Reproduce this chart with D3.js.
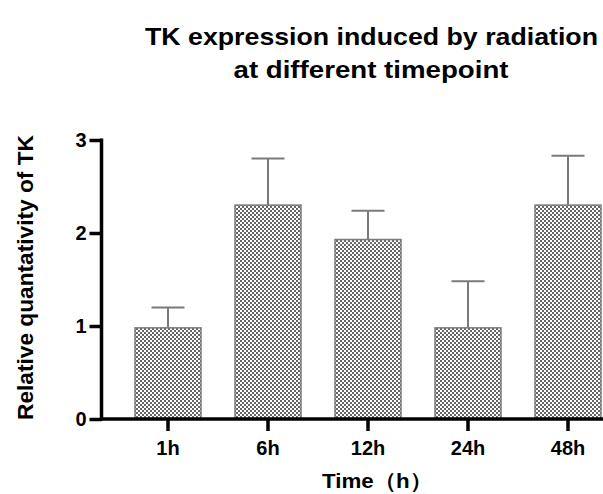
<!DOCTYPE html>
<html><head><meta charset="utf-8">
<script src="https://cdn.jsdelivr.net/npm/d3@7"></script>
<style>body{margin:0;background:#fff}svg{display:block}text{font-family:Arial,"Liberation Sans",sans-serif;font-weight:bold}</style>
</head><body>
<script>
const categories = ["1h","6h","12h","24h","48h"];
const means = [0.98, 2.30, 1.93, 0.98, 2.30];
const errors = [0.22, 0.50, 0.31, 0.50, 0.53];
const yTicks = [0,1,2,3];

const W=603,H=494;
const svg=d3.select("body").append("svg").attr("width",W).attr("height",H);
const defs=svg.append("defs");
const pat=defs.append("pattern").attr("id","chk").attr("patternUnits","userSpaceOnUse").attr("width",4).attr("height",4);
pat.append("rect").attr("width",4).attr("height",4).attr("fill","#fff");
pat.append("rect").attr("x",0).attr("y",0).attr("width",2).attr("height",2).attr("fill","#666");
pat.append("rect").attr("x",2).attr("y",2).attr("width",2).attr("height",2).attr("fill","#666");

const x=d3.scaleBand().domain(categories).range([118,618]).paddingInner(0.34).paddingOuter(0.17);
const y=d3.scaleLinear().domain([0,3]).range([419,140]);

// bars
svg.selectAll("rect.bar").data(categories).enter().append("rect")
  .attr("x",d=>x(d)).attr("width",x.bandwidth())
  .attr("y",(d,i)=>y(means[i])).attr("height",(d,i)=>y(0)-y(means[i]))
  .attr("fill","url(#chk)").attr("stroke","#7a7a7a").attr("stroke-width",1.5);

// error bars
const eb=svg.append("g").attr("stroke","#7a7a7a").attr("stroke-width",2);
categories.forEach((c,i)=>{
  const cx=x(c)+x.bandwidth()/2;
  eb.append("line").attr("x1",cx).attr("x2",cx).attr("y1",y(means[i])).attr("y2",y(means[i]+errors[i]));
  eb.append("line").attr("x1",cx-16.5).attr("x2",cx+16.5).attr("y1",y(means[i]+errors[i])).attr("y2",y(means[i]+errors[i]));
});

const ff="Arial, 'Liberation Sans', sans-serif";
// y axis
const ya=svg.append("g").attr("transform","translate(101.5,0)")
  .call(d3.axisLeft(y).tickValues(yTicks).tickFormat(d3.format("d")).tickSize(12).tickSizeOuter(0));
ya.select(".domain").attr("stroke","#000").attr("stroke-width",3.5).attr("d","M0,"+(y(3)-1.5)+"V"+(y(0)+1.5));
ya.selectAll(".tick line").attr("stroke","#000").attr("stroke-width",3.5);
ya.selectAll(".tick text").attr("font-size",20).attr("font-weight","bold").attr("fill","#000").attr("x",-15).attr("font-family",ff);

// x axis
const xa=svg.append("g").attr("transform","translate(0,419)")
  .call(d3.axisBottom(x).tickSize(12).tickSizeOuter(0));
xa.select(".domain").attr("stroke","#000").attr("stroke-width",3.5).attr("d","M100,0H603");
xa.selectAll(".tick line").attr("stroke","#000").attr("stroke-width",3.5);
xa.selectAll(".tick text").attr("font-size",20).attr("font-weight","bold").attr("fill","#000").attr("y",22).attr("font-family",ff);

// titles
svg.append("text").attr("x",371.5).attr("y",45).attr("text-anchor","middle").attr("font-size",24)
  .attr("textLength",453).attr("lengthAdjust","spacingAndGlyphs").text("TK expression induced by radiation");
svg.append("text").attr("x",371).attr("y",78).attr("text-anchor","middle").attr("font-size",24)
  .attr("textLength",275).attr("lengthAdjust","spacingAndGlyphs").text("at different timepoint");
svg.append("text").attr("x",377).attr("y",488).attr("text-anchor","middle").attr("font-size",21)
  .attr("textLength",110).attr("lengthAdjust","spacingAndGlyphs").text("Time（h）");
svg.append("text").attr("transform","translate(33,277.5) rotate(-90)").attr("text-anchor","middle").attr("font-size",22)
  .attr("textLength",285).attr("lengthAdjust","spacingAndGlyphs").text("Relative quantativity of TK");
</script>
</body></html>
